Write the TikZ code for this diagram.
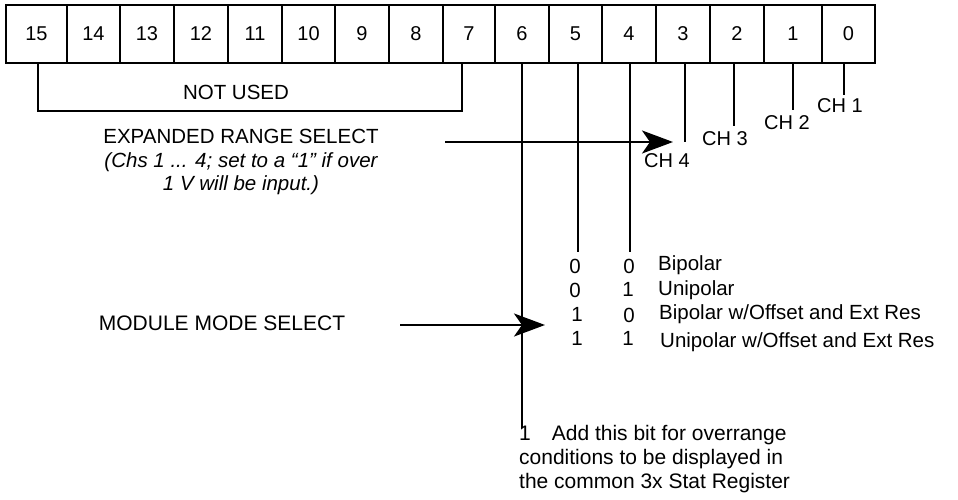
\documentclass[tikz,border=0pt]{standalone}
\usepackage{fontspec}
\setmainfont{Liberation Sans}
\usetikzlibrary{arrows.meta,calc}
\begin{document}
\begin{tikzpicture}[x=1pt,y=-1pt,
  cell/.style={draw,line width=2.2pt,minimum height=58pt,inner sep=0pt,font=\fontsize{20}{24}\selectfont},
  bitline/.style={line width=2.4pt},
  lbl/.style={inner sep=0pt,font=\fontsize{20.5}{24}\selectfont},
  chl/.style={inner sep=0pt,font=\fontsize{20}{24}\selectfont},
  bigarrow/.style={line width=2.4pt,-{Stealth[length=31pt,width=23pt,inset=8pt]}}
]
\useasboundingbox (0,0) rectangle (958,500);
% register cells
\node[cell,minimum width=61pt] (b15) at (36.5,34) {15};
\node[cell,minimum width=53pt] (b14) at (93.5,34) {14};
\node[cell,minimum width=54pt] (b13) at (147,34) {13};
\node[cell,minimum width=54pt] (b12) at (201,34) {12};
\node[cell,minimum width=54pt] (b11) at (255,34) {11};
\node[cell,minimum width=53pt] (b10) at (308.5,34) {10};
\node[cell,minimum width=54pt] (b9) at (362,34) {9};
\node[cell,minimum width=54pt] (b8) at (416,34) {8};
\node[cell,minimum width=52pt] (b7) at (469,34) {7};
\node[cell,minimum width=54pt] (b6) at (522,34) {6};
\node[cell,minimum width=53pt] (b5) at (575.5,34) {5};
\node[cell,minimum width=54pt] (b4) at (629,34) {4};
\node[cell,minimum width=54pt] (b3) at (683,34) {3};
\node[cell,minimum width=54pt] (b2) at (737,34) {2};
\node[cell,minimum width=58pt] (b1) at (793,34) {1};
\node[cell,minimum width=53pt] (b0) at (848.5,34) {0};

% NOT USED bracket
\coordinate (nuL) at ($(b15.south)+(1.5,0)$);
\coordinate (nuR) at ($(b7.south)+(-7,0)$);
\draw[line width=2.2pt] (nuL) -- ++(0,47) -| (nuR);
\node[lbl] (notused) at (236,92) {NOT USED};

% bit lines
\coordinate (e6) at (522,428);
\coordinate (e5) at (578,252);
\coordinate (e4) at (630,252);
\coordinate (e3) at (685,142);
\coordinate (e2) at (734,126);
\coordinate (e1) at (793,110);
\coordinate (e0) at (844,95);
\draw[bitline] (b6.south) -- (e6);
\draw[bitline] (b5.south -| e5) -- (e5);
\draw[bitline] (b4.south -| e4) -- (e4);
\draw[bitline] (b3.south -| e3) -- (e3);
\draw[bitline] (b2.south -| e2) -- (e2);
\draw[bitline] (b1.south -| e1) -- (e1);
\draw[bitline] (b0.south -| e0) -- (e0);

% channel labels
\node[chl] (ch1) at (840,106) {CH 1};
\node[chl] (ch2) at (787,123) {CH 2};
\node[chl] (ch3) at (725,139) {CH 3};
\node[chl] (ch4) at (667,161) {CH 4};

% expanded range select
\node[lbl,align=center,font=\fontsize{20.5}{23.5}\selectfont] (ers) at (241,162)
  {EXPANDED RANGE SELECT\\ \itshape (Chs 1 ... 4; set to a “1” if over\\ \itshape 1 V will be input.)};
\coordinate (ersA) at (445,142);
\coordinate (ersB) at (673,142);
\draw[bigarrow] (ersA) -- (ersB);

% module mode select
\node[lbl,font=\fontsize{21}{24}\selectfont] (mms) at (222,323) {MODULE MODE SELECT};
\coordinate (mmsA) at (400,325);
\coordinate (mmsB) at (545,325);
\draw[bigarrow] (mmsA) -- (mmsB);

% mode table
\node[lbl] (r1a) at (575,266) {0};
\node[lbl] (r1b) at (629,266) {0};
\node[lbl,anchor=west] (r1t) at (658,265) {Bipolar};
\node[lbl] (r2a) at (575,290) {0};
\node[lbl] (r2b) at (628,289) {1};
\node[lbl,anchor=west] (r2t) at (658,290) {Unipolar};
\node[lbl] (r3a) at (577,314) {1};
\node[lbl] (r3b) at (629,315) {0};
\node[lbl,anchor=west] (r3t) at (659,314) {Bipolar w/Offset and Ext Res};
\node[lbl] (r4a) at (577,338) {1};
\node[lbl] (r4b) at (628,338) {1};
\node[lbl,anchor=west] (r4t) at (660,342) {Unipolar w/Offset and Ext Res};

% overrange note
\node[lbl,anchor=north west,align=left,font=\fontsize{21}{24}\selectfont] (note) at (519,425)
  {1\hspace{21pt}Add this bit for overrange\\conditions to be displayed in\\the common 3x Stat Register};
\end{tikzpicture}
\end{document}
